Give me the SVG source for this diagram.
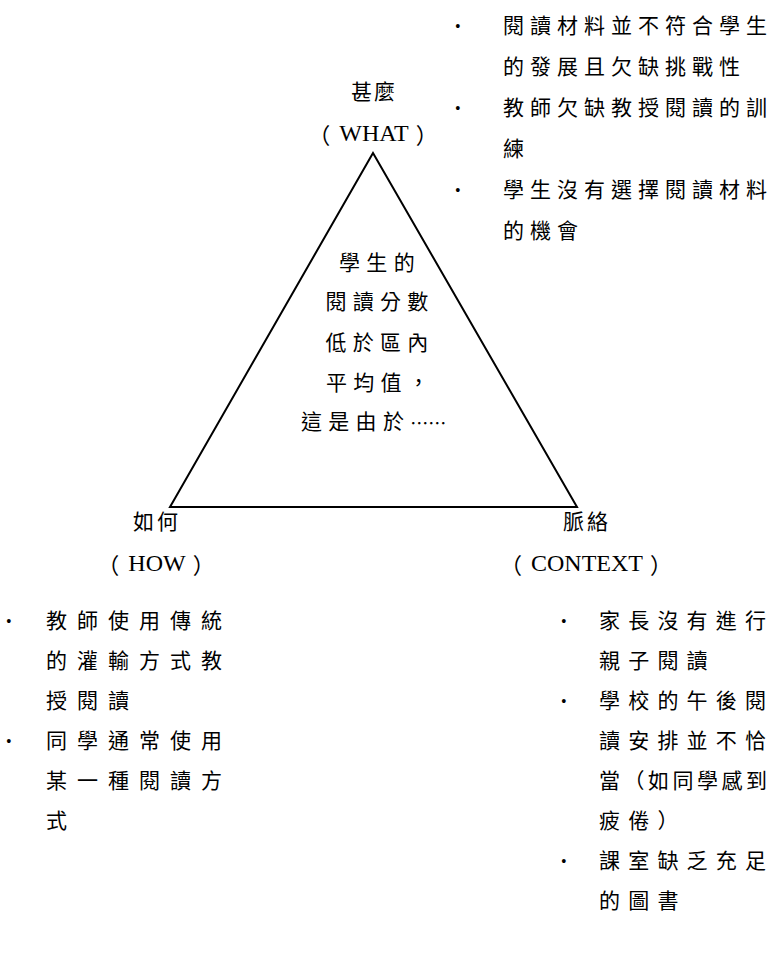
<svg xmlns="http://www.w3.org/2000/svg" width="777" height="970" viewBox="0 0 777 970">
<style>
text{font-family:"Liberation Serif","Noto Sans CJK TC",serif;font-size:21px;fill:#000;dominant-baseline:central}
.b{font-size:16px}
.c{text-anchor:middle}
.p{font-size:24px;text-anchor:middle}
.cjk{font-family:"Noto Sans CJK TC",sans-serif}
.tr{letter-spacing:6px}
.bl{letter-spacing:10px}
.br{letter-spacing:8.2px}
.in{letter-spacing:6.3px}
</style>
<rect width="777" height="970" fill="#fff"/>
<g id="connectors">
<polygon points="373,153 170,507 577,507" fill="none" stroke="#000" stroke-width="2" stroke-linejoin="miter"/>
</g>
<g id="center">
<text x="380" y="263" class="in c">學生的</text>
<text x="380" y="302" class="in c">閱讀分數</text>
<text x="380" y="343" class="in c">低於區內</text>
<text x="326" y="383" class="in">平均值，</text>
<text x="301" y="422"><tspan class="in">這是由於</tspan><tspan class="cjk" font-size="18">……</tspan></text>
</g>
<g id="what">
<text x="374" y="92" class="c" style="letter-spacing:2px">甚麼</text>
<text x="373" y="133" class="p"><tspan class="cjk" font-size="22">（</tspan><tspan dx="9">WHAT</tspan><tspan class="cjk" font-size="22" dx="7">）</tspan></text>
</g>
<g id="how">
<text x="133" y="522" style="letter-spacing:3px">如何</text>
<text x="156" y="563" class="p"><tspan class="cjk" font-size="22">（</tspan><tspan dx="9">HOW</tspan><tspan class="cjk" font-size="22" dx="7">）</tspan></text>
</g>
<g id="context">
<text x="563" y="522" style="letter-spacing:3px">脈絡</text>
<text x="586" y="563" class="p"><tspan class="cjk" font-size="22">（</tspan><tspan dx="9">CONTEXT</tspan><tspan class="cjk" font-size="22" dx="7">）</tspan></text>
</g>
<g id="what-list">
<text x="455" y="26" class="b">•</text>
<text x="503" y="26" class="tr">閱讀材料並不符合學生</text>
<text x="503" y="67" class="tr">的發展且欠缺挑戰性</text>
<text x="455" y="108" class="b">•</text>
<text x="503" y="108" class="tr">教師欠缺教授閱讀的訓</text>
<text x="503" y="149" class="tr">練</text>
<text x="455" y="190" class="b">•</text>
<text x="503" y="190" class="tr">學生沒有選擇閱讀材料</text>
<text x="503" y="231" class="tr">的機會</text>
</g>
<g id="how-list">
<text x="6" y="621" class="b">•</text>
<text x="46" y="621" class="bl">教師使用傳統</text>
<text x="46" y="661" class="bl">的灌輸方式教</text>
<text x="46" y="701" class="bl">授閱讀</text>
<text x="6" y="741" class="b">•</text>
<text x="46" y="741" class="bl">同學通常使用</text>
<text x="46" y="781" class="bl">某一種閱讀方</text>
<text x="46" y="821" class="bl">式</text>
</g>
<g id="context-list">
<text x="561" y="621" class="b">•</text>
<text x="599" y="621" class="br">家長沒有進行</text>
<text x="599" y="661" class="br">親子閱讀</text>
<text x="561" y="701" class="b">•</text>
<text x="599" y="701" class="br">學校的午後閱</text>
<text x="599" y="741" class="br">讀安排並不恰</text>
<text x="599" y="781" textLength="168" lengthAdjust="spacing">當（如同學感到</text>
<text x="599" y="821" class="br">疲倦）</text>
<text x="561" y="861" class="b">•</text>
<text x="599" y="861" class="br">課室缺乏充足</text>
<text x="599" y="901" class="br">的圖書</text>
</g>
</svg>
